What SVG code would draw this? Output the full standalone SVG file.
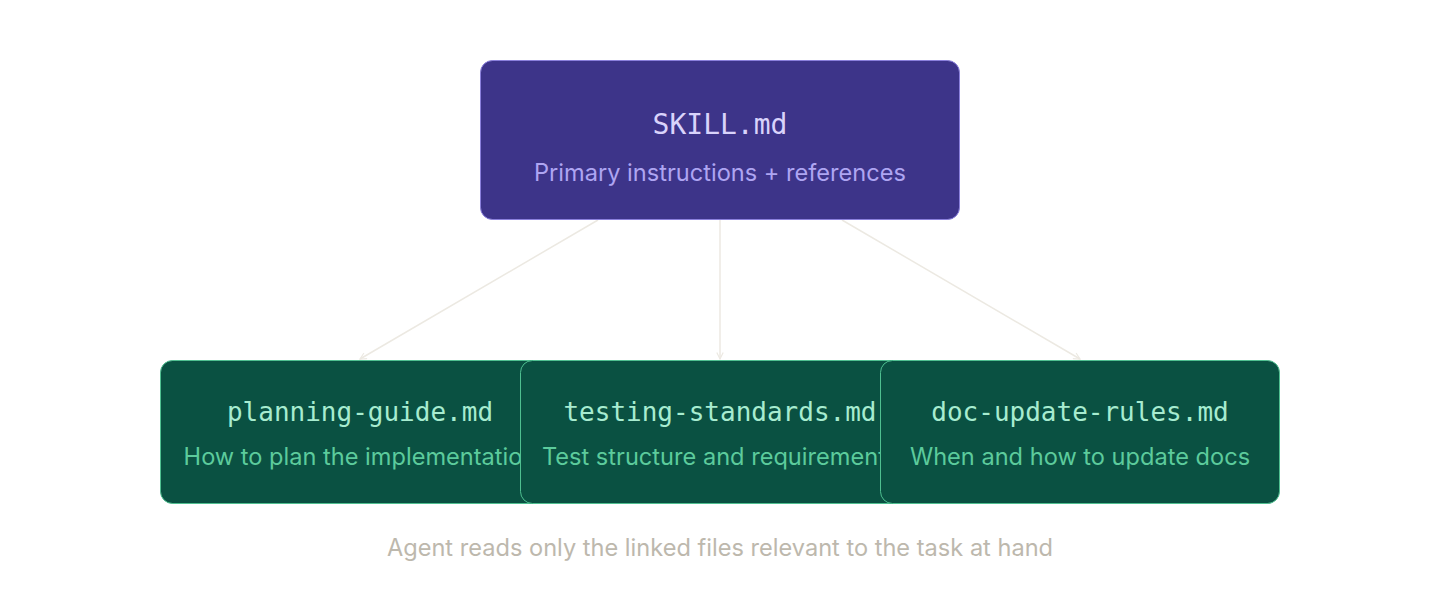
<svg xmlns="http://www.w3.org/2000/svg" width="1440" height="600" viewBox="0 0 1440 600">
<style>
.mono{font-family:"DejaVu Sans Mono","Liberation Mono",monospace;text-anchor:middle}
.sans{font-family:Inter,"Noto Sans","Liberation Sans",sans-serif;text-anchor:middle}
.top{fill:#3d3489;stroke:#8a7fdc;stroke-width:1}
.leaf{fill:#0a5142;stroke:#4fbf90;stroke-width:1}
.conn{stroke:#ece9e2;stroke-width:1.5;fill:none;marker-end:url(#arr)}
</style>
<defs>
<marker id="arr" viewBox="0 0 10 10" refX="9" refY="5" markerWidth="8" markerHeight="8" orient="auto-start-reverse" markerUnits="userSpaceOnUse">
<path d="M1,1 L9,5 L1,9" fill="none" stroke="#ece9e2" stroke-width="1.5"/>
</marker>
</defs>
<rect width="1440" height="600" fill="#ffffff"/>
<g id="connectors">
<line class="conn" x1="598" y1="220" x2="360" y2="359"/>
<line class="conn" x1="720" y1="220" x2="720" y2="359"/>
<line class="conn" x1="842" y1="220" x2="1080" y2="359"/>
</g>
<g id="skill">
<rect class="top" x="480.5" y="60.5" width="479" height="159" rx="12"/>
<text class="mono" x="720" y="134" font-size="28" fill="#d9d3fb">SKILL.md</text>
<text class="sans" x="720" y="181" font-size="23.6" fill="#aea5f2">Primary instructions + references</text>
</g>
<g id="planning">
<rect class="leaf" x="160.5" y="360.5" width="399" height="143" rx="12"/>
<text class="mono" x="360" y="421" font-size="26" fill="#a7ecd0">planning-guide.md</text>
<text class="sans" x="360" y="465" font-size="23.6" fill="#5ccb9c">How to plan the implementation</text>
</g>
<g id="testing">
<rect class="leaf" x="520.5" y="360.5" width="399" height="143" rx="12"/>
<text class="mono" x="720" y="421" font-size="26" fill="#a7ecd0">testing-standards.md</text>
<text class="sans" x="720" y="465" font-size="23.6" fill="#5ccb9c">Test structure and requirements</text>
</g>
<g id="docupdate">
<rect class="leaf" x="880.5" y="360.5" width="399" height="143" rx="12"/>
<text class="mono" x="1080" y="421" font-size="26" fill="#a7ecd0">doc-update-rules.md</text>
<text class="sans" x="1080" y="465" font-size="23.6" fill="#5ccb9c">When and how to update docs</text>
</g>
<text class="sans" x="720" y="556" font-size="23.6" fill="#bdb8ad">Agent reads only the linked files relevant to the task at hand</text>
</svg>
